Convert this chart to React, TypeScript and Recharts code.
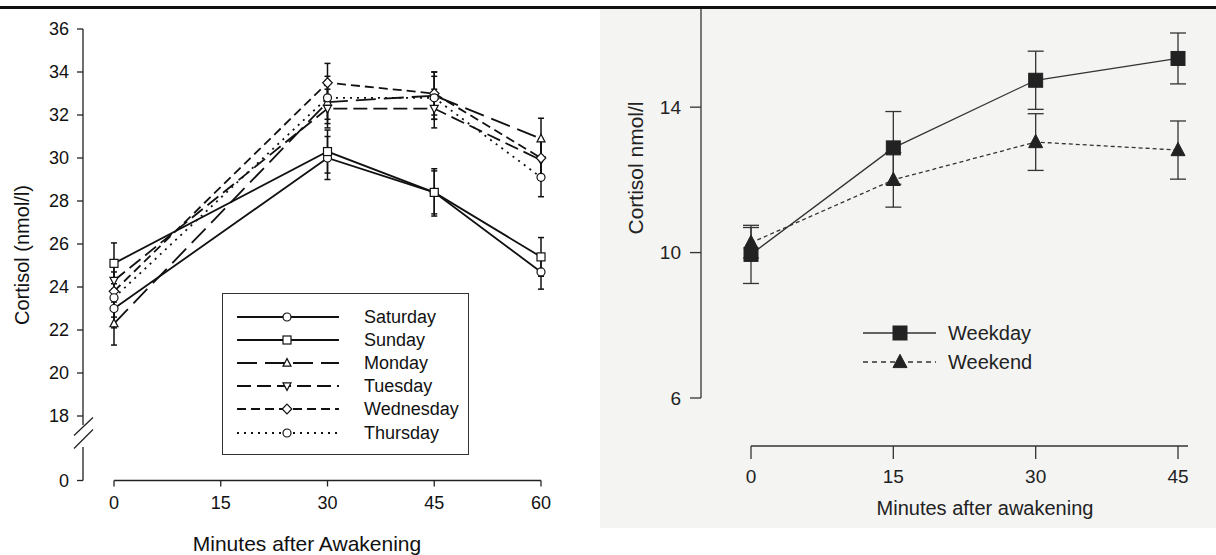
import { LineChart, Line, XAxis, YAxis, ErrorBar, Legend } from 'recharts';

const FONT = '"Liberation Sans", Arial, Helvetica, sans-serif';

// ---- left figure: cortisol by day of week ----
const dailyMinutes = [0, 30, 45, 60];
const dailyTicksX = [0, 15, 30, 45, 60];
// the axis is broken below 18; the bottom tick stands for 0
const DAILY_AXIS_BASE = 15;
const dailyTicksY = [DAILY_AXIS_BASE, 18, 20, 22, 24, 26, 28, 30, 32, 34, 36];

const saturday = [23.0, 30.0, 28.4, 24.7];
const sunday = [25.1, 30.3, 28.4, 25.4];
const monday = [22.3, 32.6, 32.9, 30.9];
const tuesday = [24.3, 32.3, 32.3, 29.9];
const wednesday = [23.8, 33.5, 33.0, 30.0];
const thursday = [23.5, 32.8, 32.8, 29.1];

const saturdayErr = [0.9, 1.0, 1.0, 0.8];
const sundayErr = [0.95, 1.0, 1.1, 0.9];
const mondayErr = [1.0, 1.0, 1.1, 0.95];
const tuesdayErr = [0.9, 0.9, 0.9, 0.9];
const wednesdayErr = [0.9, 0.9, 1.0, 0.9];
const thursdayErr = [0.9, 1.0, 1.0, 0.9];

// ---- right figure: weekday vs weekend ----
const weekMinutes = [0, 15, 30, 45];
const weekTicksY = [6, 10, 14];
const weekday = [9.95, 12.88, 14.74, 15.34];
const weekend = [10.27, 12.0, 13.04, 12.82];
const weekdayErr = [0.8, 1.0, 0.8, 0.7];
const weekendErr = [0.42, 0.75, 0.78, 0.8];

type Shape = 'circle' | 'square' | 'triangle' | 'triangleDown' | 'diamond';

const dailySeries: { key: string; name: string; values: number[]; errors: number[]; dash?: string; shape: Shape }[] = [
  { key: 'sat', name: 'Saturday', values: saturday, errors: saturdayErr, shape: 'circle' },
  { key: 'sun', name: 'Sunday', values: sunday, errors: sundayErr, shape: 'square' },
  { key: 'mon', name: 'Monday', values: monday, errors: mondayErr, dash: '20 8', shape: 'triangle' },
  { key: 'tue', name: 'Tuesday', values: tuesday, errors: tuesdayErr, dash: '14 6', shape: 'triangleDown' },
  { key: 'wed', name: 'Wednesday', values: wednesday, errors: wednesdayErr, dash: '9 5', shape: 'diamond' },
  { key: 'thu', name: 'Thursday', values: thursday, errors: thursdayErr, dash: '2 5', shape: 'circle' },
];

const weekSeries: { key: string; name: string; values: number[]; errors: number[]; dash?: string; shape: Shape }[] = [
  { key: 'weekday', name: 'Weekday', values: weekday, errors: weekdayErr, shape: 'square' },
  { key: 'weekend', name: 'Weekend', values: weekend, errors: weekendErr, dash: '4 3', shape: 'triangle' },
];

const dailyData = dailyMinutes.map((m, i) => {
  const row: Record<string, number> = { min: m };
  dailySeries.forEach(s => {
    row[s.key] = s.values[i];
    row[s.key + 'Err'] = s.errors[i];
  });
  return row;
});

const weekData = weekMinutes.map((m, i) => {
  const row: Record<string, number> = { min: m };
  weekSeries.forEach(s => {
    row[s.key] = s.values[i];
    row[s.key + 'Err'] = s.errors[i];
  });
  return row;
});

function Marker({ cx, cy, shape, r, fill, stroke, sw }: { cx: number; cy: number; shape: Shape; r: number; fill: string; stroke: string; sw: number }) {
  if (cx == null || cy == null) return null;
  const common = { fill, stroke, strokeWidth: sw };
  switch (shape) {
    case 'square':
      return <rect x={cx - r} y={cy - r} width={2 * r} height={2 * r} {...common} />;
    case 'triangle':
      return <polygon points={`${cx},${cy - r * 1.1} ${cx - r},${cy + r * 0.8} ${cx + r},${cy + r * 0.8}`} {...common} />;
    case 'triangleDown':
      return <polygon points={`${cx},${cy + r * 1.1} ${cx - r},${cy - r * 0.8} ${cx + r},${cy - r * 0.8}`} {...common} />;
    case 'diamond':
      return <polygon points={`${cx},${cy - r * 1.2} ${cx + r * 1.2},${cy} ${cx},${cy + r * 1.2} ${cx - r * 1.2},${cy}`} {...common} />;
    default:
      return <circle cx={cx} cy={cy} r={r} {...common} />;
  }
}

const CortisolTick = (props: any) => {
  const { x, y, payload } = props;
  const isBase = payload.value === DAILY_AXIS_BASE;
  return (
    <g>
      <text x={x} y={y} textAnchor="end" dominantBaseline="central" fontSize={18} fill="#111" fontFamily={FONT}>
        {isBase ? '0' : payload.value}
      </text>
      {isBase && (
        <g stroke="#222" strokeWidth={1.3}>
          <line x1={x + 5} y1={y - 45} x2={x + 24} y2={y - 63} />
          <line x1={x + 5} y1={y - 32} x2={x + 24} y2={y - 51} />
        </g>
      )}
    </g>
  );
};

const DailyLegend = () => (
  <div style={{ width: 247, height: 162, border: '1px solid #333', background: '#fff', fontFamily: FONT, fontSize: 18, color: '#111', paddingTop: 11, boxSizing: 'border-box' }}>
    {dailySeries.map(s => (
      <div key={s.key} style={{ display: 'flex', alignItems: 'center', height: 23.2 }}>
        <svg width={130} height={20} style={{ marginLeft: 8, flex: 'none' }}>
          <line x1={6} y1={10} x2={108} y2={10} stroke="#111" strokeWidth={1.8} strokeDasharray={s.dash} />
          <Marker cx={56} cy={10} shape={s.shape} r={4} fill="#fff" stroke="#111" sw={1.2} />
        </svg>
        <span style={{ marginLeft: 3, lineHeight: 1 }}>{s.name}</span>
      </div>
    ))}
  </div>
);

const WeekLegend = () => (
  <div style={{ fontFamily: FONT, fontSize: 20, color: '#222' }}>
    {weekSeries.map(s => (
      <div key={s.key} style={{ display: 'flex', alignItems: 'center', height: 29 }}>
        <svg width={85} height={24} style={{ flex: 'none' }}>
          <line x1={0} y1={12} x2={73} y2={12} stroke="#333" strokeWidth={1.3} strokeDasharray={s.dash ? '5 4' : undefined} />
          <Marker cx={37} cy={12} shape={s.shape} r={7} fill="#222" stroke="#222" sw={1} />
        </svg>
        <span style={{ lineHeight: 1 }}>{s.name}</span>
      </div>
    ))}
  </div>
);

export default function App() {
  return (
    <div style={{ position: 'absolute', left: 0, top: 0, width: 1216, height: 555, background: '#fff', overflow: 'hidden' }}>
      <div style={{ position: 'absolute', left: 600, top: 8, width: 616, height: 520, background: '#f4f4f3' }} />

      <div style={{ position: 'absolute', left: 0, top: 0 }}>
        <LineChart width={600} height={555} data={dailyData} margin={{ top: 29, right: 59, bottom: 14.5, left: 23 }}>
          <XAxis
            dataKey="min"
            type="number"
            domain={[0, 60]}
            ticks={dailyTicksX}
            padding={{ left: 31, right: 0 }}
            height={60}
            tickSize={6}
            tickMargin={10}
            axisLine={{ stroke: '#222', strokeWidth: 1.3, strokeDasharray: '0 31 600' }}
            tickLine={{ stroke: '#222', strokeWidth: 1.3 }}
            tick={{ fontSize: 18, fill: '#111', fontFamily: FONT }}
            label={{
              content: () => (
                <text x={307} y={551} textAnchor="middle" fontSize={21} fill="#111" fontFamily={FONT}>
                  Minutes after Awakening
                </text>
              ),
            }}
          />
          <YAxis
            type="number"
            domain={[DAILY_AXIS_BASE, 36]}
            ticks={dailyTicksY}
            width={60}
            tickSize={6}
            tickMargin={8}
            axisLine={{ stroke: '#222', strokeWidth: 1.3, strokeDasharray: '396 22 600' }}
            tickLine={{ stroke: '#222', strokeWidth: 1.3 }}
            tick={(p: any) => <CortisolTick {...p} />}
            label={{
              content: () => (
                <text x={22} y={255} transform="rotate(-90 22 255)" textAnchor="middle" dominantBaseline="central" fontSize={20} fill="#111" fontFamily={FONT}>
                  Cortisol (nmol/l)
                </text>
              ),
            }}
          />
          <Legend layout="vertical" verticalAlign="middle" align="center" content={() => <DailyLegend />} wrapperStyle={{ left: 222, top: 293, width: 249, height: 164 }} />
          {dailySeries.map(s => (
            <Line
              key={s.key}
              dataKey={s.key}
              name={s.name}
              type="linear"
              stroke="#111"
              strokeWidth={1.8}
              strokeDasharray={s.dash}
              isAnimationActive={false}
              dot={(p: any) => <Marker key={p.index} cx={p.cx} cy={p.cy} shape={s.shape} r={4} fill="#fff" stroke="#111" sw={1.2} />}
            >
              <ErrorBar dataKey={s.key + 'Err'} direction="y" width={3} stroke="#111" strokeWidth={1.5} />
            </Line>
          ))}
        </LineChart>
      </div>

      <div style={{ position: 'absolute', left: 600, top: 0 }}>
        <LineChart width={616} height={555} data={weekData} margin={{ top: 8, right: 28, bottom: 29, left: 41 }}>
          <XAxis
            dataKey="min"
            type="number"
            domain={[0, 45]}
            ticks={weekMinutes}
            padding={{ left: 50, right: 10 }}
            height={80}
            tickSize={13}
            tickMargin={11}
            axisLine={{ stroke: '#333', strokeWidth: 1.3, strokeDasharray: '0 50 600' }}
            tickLine={{ stroke: '#333', strokeWidth: 1.3 }}
            tick={{ fontSize: 19, fill: '#222', fontFamily: FONT }}
            label={{
              content: () => (
                <text x={385} y={515} textAnchor="middle" fontSize={20} fill="#222" fontFamily={FONT}>
                  Minutes after awakening
                </text>
              ),
            }}
          />
          <YAxis
            type="number"
            domain={[6, 16]}
            ticks={weekTicksY}
            padding={{ top: 25, bottom: 48 }}
            width={60}
            tickSize={11}
            tickMargin={9}
            axisLine={{ stroke: '#333', strokeWidth: 1.3, strokeDasharray: '390 600' }}
            tickLine={{ stroke: '#333', strokeWidth: 1.3 }}
            tick={{ fontSize: 19, fill: '#222', fontFamily: FONT }}
            label={{
              content: () => (
                <text x={35} y={168} transform="rotate(-90 35 168)" textAnchor="middle" dominantBaseline="central" fontSize={21} fill="#222" fontFamily={FONT}>
                  Cortisol nmol/l
                </text>
              ),
            }}
          />
          <Legend layout="vertical" verticalAlign="middle" align="center" content={() => <WeekLegend />} wrapperStyle={{ left: 263, top: 318, width: 200, height: 60 }} />
          {weekSeries.map(s => (
            <Line
              key={s.key}
              dataKey={s.key}
              name={s.name}
              type="linear"
              stroke="#333"
              strokeWidth={1.3}
              strokeDasharray={s.dash}
              isAnimationActive={false}
              dot={(p: any) => <Marker key={p.index} cx={p.cx} cy={p.cy} shape={s.shape} r={7} fill="#222" stroke="#222" sw={1} />}
            >
              <ErrorBar dataKey={s.key + 'Err'} direction="y" width={8} stroke="#333" strokeWidth={1.3} />
            </Line>
          ))}
        </LineChart>
      </div>

      <div style={{ position: 'absolute', left: 0, top: 6, width: 1216, height: 3, background: '#111' }} />
    </div>
  );
}
